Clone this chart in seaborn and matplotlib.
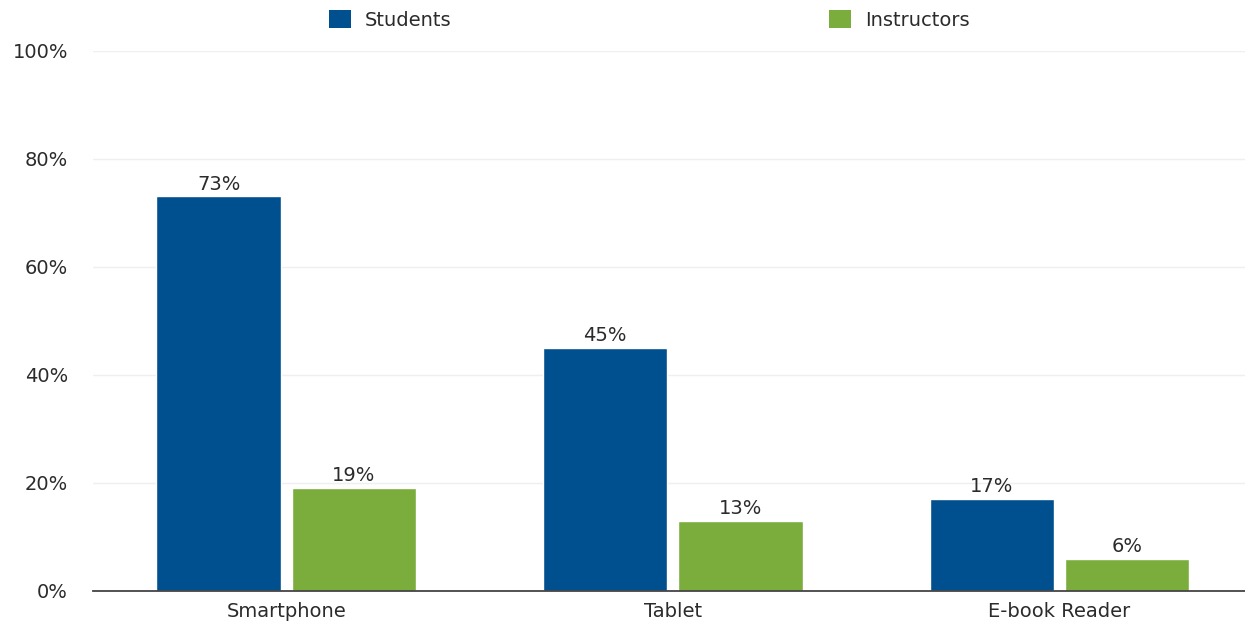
import matplotlib
matplotlib.use("Agg")
import matplotlib.pyplot as plt
import seaborn as sns
import pandas as pd
from matplotlib.patches import Patch

categories = ["Smartphone", "Tablet", "E-book Reader"]
series_names = ["Students", "Instructors"]
students = [73, 45, 17]
instructors = [19, 13, 6]
yticks = [0, 20, 40, 60, 80, 100]
colors = ["#00508F", "#7AAD3C"]

df = pd.DataFrame({
    "category": categories * 2,
    "group": [series_names[0]] * 3 + [series_names[1]] * 3,
    "value": students + instructors,
})

sns.set_theme(style="white")
plt.rcParams["font.family"] = ["DejaVu Sans"]
FS = 14
TXT = "#2B2B2B"

fig = plt.figure(figsize=(12.45, 6.24), dpi=100)
ax = fig.add_axes([0.0747, 0.053, 0.9253, 0.866])

sns.barplot(data=df, x="category", y="value", hue="group", palette=colors,
            width=0.7, gap=0.08, ax=ax, legend=False, saturation=1)

ax.set_ylim(0, 100)
ax.set_xlim(-0.5, 2.48)
ax.set_yticks(yticks)
ax.set_yticklabels([f"{v}%" for v in yticks], fontsize=FS, color=TXT)
ax.tick_params(axis="x", labelsize=FS, labelcolor=TXT, length=0, pad=8)
ax.tick_params(axis="y", length=0, pad=18)
ax.set_xlabel("")
ax.set_ylabel("")
ax.yaxis.grid(True, color="#EFEFEF", linewidth=1)
ax.set_axisbelow(True)
for s in ["top", "right", "left"]:
    ax.spines[s].set_visible(False)
ax.spines["bottom"].set_color("#444444")
ax.spines["bottom"].set_linewidth(1.3)

for cont in ax.containers:
    ax.bar_label(cont, labels=[f"{int(v)}%" for v in cont.datavalues],
                 fontsize=FS, color=TXT, padding=2)

handles = [Patch(facecolor=c, edgecolor="none") for c in colors]
fig.legend(handles, series_names, loc="center", bbox_to_anchor=(0.5215, 0.968),
           ncol=2, frameon=False, fontsize=FS, handlelength=1.13, handleheight=1.03,
           handletextpad=0.72, columnspacing=19.45, labelcolor=TXT)

fig.savefig("out.png", dpi=100)
